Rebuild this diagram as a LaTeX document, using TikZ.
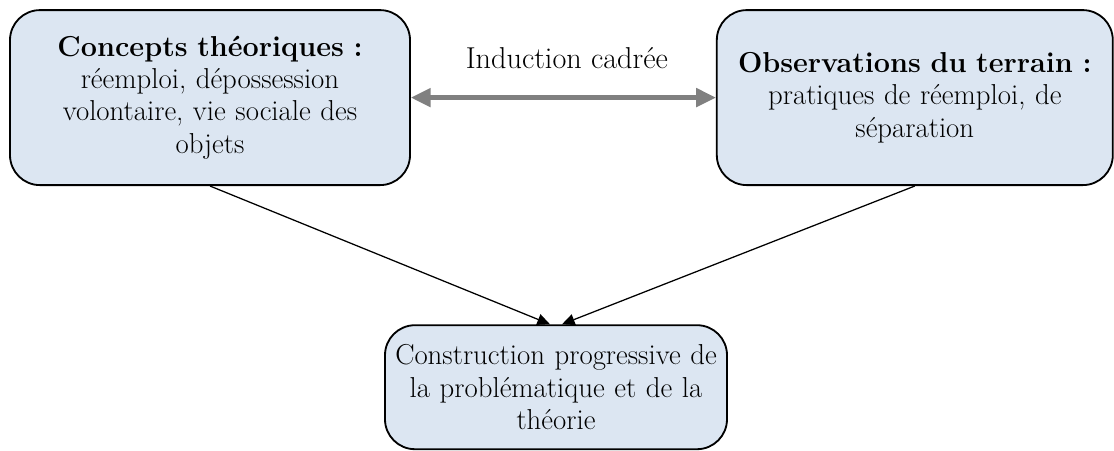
\documentclass[tikz,border=0pt]{standalone}
\usepackage{tikz}
\usetikzlibrary{arrows.meta}

\tikzset{
  boite/.style={draw, line width=1.3pt, rounded corners=0.75cm, fill=bleupale,
    align=center, inner sep=0pt, font=\fontsize{20.5}{23}\selectfont},
  fleche/.style={-{Triangle[length=9pt,width=8pt]}, line width=0.9pt},
}
\definecolor{bleupale}{RGB}{220,230,242}

\begin{document}
\begin{tikzpicture}
        \useasboundingbox (0,0) rectangle (27.85,-11.25);
		\node[boite, minimum width=10cm, minimum height=4.375cm, text width=9.6cm] (C) at (5.25,-2.44)
		  {\textbf{Concepts théoriques :}\\ réemploi, dépossession\\ volontaire, vie sociale des\\ objets};
		\node[boite, minimum width=9.9cm, minimum height=4.375cm, text width=9.6cm] (O) at (22.87,-2.44)
		  {\textbf{Observations du terrain :}\\ pratiques de réemploi, de\\ séparation};
		\node[boite, minimum width=8.55cm, minimum height=3.1cm, text width=8.4cm] (P) at (13.9,-9.68)
		  {Construction progressive de\\ la problématique et de la\\ théorie};
		\node[font=\fontsize{21.5}{24}\selectfont] (I) at (14.17,-1.45) {Induction cadrée};
		
		\draw[{Triangle[length=14pt,width=13pt]}-{Triangle[length=14pt,width=13pt]}, line width=3pt, gray] (C.east) -- (O.west);
		\draw[fleche] (C.south) -- ([xshift=-0.15cm]P.north);
		\draw[fleche] (O.south) -- ([xshift=0.15cm]P.north);
\end{tikzpicture}
\end{document}
